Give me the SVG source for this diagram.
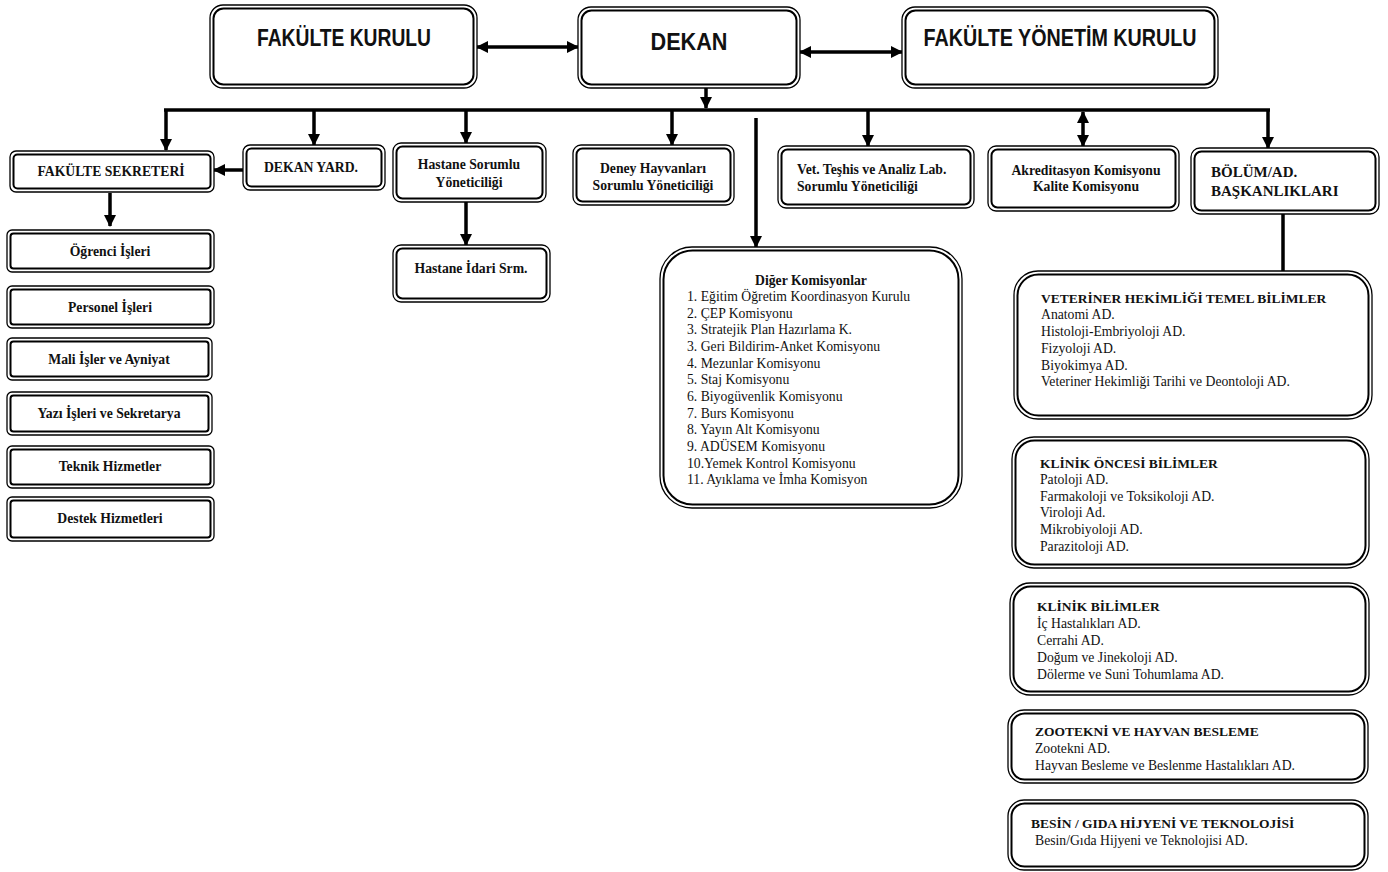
<svg xmlns="http://www.w3.org/2000/svg" width="1388" height="872" viewBox="0 0 1388 872">
<style>
.o{fill:#fff;stroke:#000;stroke-width:1.3}
.i{fill:none;stroke:#000;stroke-width:2}
.big{font-family:"Liberation Sans",Arial,sans-serif;font-weight:bold;font-size:24px;fill:#111}
.b{font-family:"Liberation Serif","Times New Roman",serif;font-weight:bold;font-size:13.7px;fill:#111}
.r{font-family:"Liberation Serif","Times New Roman",serif;font-size:13.7px;fill:#111}
.c{stroke:#000;stroke-width:3.5;fill:none}
</style>
<defs>
<marker id="ah" markerUnits="userSpaceOnUse" markerWidth="12" markerHeight="12" refX="11" refY="6" orient="auto-start-reverse">
<path d="M0,0 L12,6 L0,12 z" fill="#000"/>
</marker>
</defs>
<rect width="1388" height="872" fill="#fff"/>
<g id="connectors">
<line class="c" x1="164" y1="110" x2="1270" y2="110"/>
<line class="c" x1="166" y1="110" x2="166" y2="150" marker-end="url(#ah)"/>
<line class="c" x1="314" y1="110" x2="314" y2="145" marker-end="url(#ah)"/>
<line class="c" x1="466" y1="110" x2="466" y2="143" marker-end="url(#ah)"/>
<line class="c" x1="672" y1="110" x2="672" y2="145" marker-end="url(#ah)"/>
<line class="c" x1="756" y1="118" x2="756" y2="247" marker-end="url(#ah)"/>
<line class="c" x1="868" y1="110" x2="868" y2="146" marker-end="url(#ah)"/>
<line class="c" x1="1083" y1="112" x2="1083" y2="146" marker-start="url(#ah)" marker-end="url(#ah)"/>
<line class="c" x1="1268" y1="110" x2="1268" y2="148" marker-end="url(#ah)"/>
<line class="c" x1="706" y1="88" x2="706" y2="108" marker-end="url(#ah)"/>
<line class="c" x1="477" y1="47" x2="578" y2="47" marker-start="url(#ah)" marker-end="url(#ah)"/>
<line class="c" x1="800" y1="52" x2="902" y2="52" marker-start="url(#ah)" marker-end="url(#ah)"/>
<line class="c" x1="243" y1="170" x2="214" y2="170" marker-end="url(#ah)"/>
<line class="c" x1="466" y1="202" x2="466" y2="245" marker-end="url(#ah)"/>
<line class="c" x1="110" y1="193" x2="110" y2="226" marker-end="url(#ah)"/>
<line class="c" x1="1283" y1="214" x2="1283" y2="271"/>
</g>
<g id="fakulte-kurulu">
<rect class="o" x="210" y="5" width="267" height="83" rx="13"/>
<rect class="i" x="213.5" y="8.5" width="260" height="76" rx="10"/>
<text class="big" x="344" y="46" text-anchor="middle" textLength="174" lengthAdjust="spacingAndGlyphs">FAKÜLTE KURULU</text>
</g>
<g id="dekan">
<rect class="o" x="578" y="7" width="222" height="81" rx="13"/>
<rect class="i" x="581.5" y="10.5" width="215" height="74" rx="10"/>
<text class="big" x="689" y="50" text-anchor="middle" textLength="77" lengthAdjust="spacingAndGlyphs">DEKAN</text>
</g>
<g id="fakulte-yonetim-kurulu">
<rect class="o" x="902" y="7" width="316" height="81" rx="13"/>
<rect class="i" x="905.5" y="10.5" width="309" height="74" rx="10"/>
<text class="big" x="1060" y="46" text-anchor="middle" textLength="273" lengthAdjust="spacingAndGlyphs">FAKÜLTE YÖNETİM KURULU</text>
</g>
<g id="fakulte-sekreteri">
<rect class="o" x="10" y="151" width="204" height="41" rx="6"/>
<rect class="i" x="13.5" y="154.5" width="197" height="34" rx="4"/>
<text class="b" x="111" y="176" text-anchor="middle">FAKÜLTE SEKRETERİ</text>
</g>
<g id="dekan-yard">
<rect class="o" x="243" y="145" width="142" height="45" rx="7"/>
<rect class="i" x="246.5" y="148.5" width="135" height="38" rx="5"/>
<text class="b" x="311" y="172" text-anchor="middle">DEKAN YARD.</text>
</g>
<g id="hastane-sorumlu">
<rect class="o" x="393" y="143" width="153" height="59" rx="8"/>
<rect class="i" x="396.5" y="146.5" width="146" height="52" rx="6"/>
<text class="b" x="469" y="169" text-anchor="middle">Hastane Sorumlu</text>
<text class="b" x="469" y="187" text-anchor="middle">Yöneticiliği</text>
</g>
<g id="hastane-idari">
<rect class="o" x="393" y="245" width="157" height="57" rx="8"/>
<rect class="i" x="396.5" y="248.5" width="150" height="50" rx="6"/>
<text class="b" x="471" y="273" text-anchor="middle">Hastane İdari Srm.</text>
</g>
<g id="deney-hayvanlari">
<rect class="o" x="573" y="145" width="161" height="60" rx="8"/>
<rect class="i" x="576.5" y="148.5" width="154" height="53" rx="6"/>
<text class="b" x="653" y="173" text-anchor="middle">Deney Hayvanları</text>
<text class="b" x="653" y="190" text-anchor="middle">Sorumlu Yöneticiliği</text>
</g>
<g id="vet-teshis">
<rect class="o" x="778" y="146" width="196" height="62" rx="8"/>
<rect class="i" x="781.5" y="149.5" width="189" height="55" rx="6"/>
<text class="b" x="797" y="174">Vet. Teşhis ve Analiz Lab.</text>
<text class="b" x="797" y="191">Sorumlu Yöneticiliği</text>
</g>
<g id="akreditasyon">
<rect class="o" x="988" y="146" width="191" height="65" rx="8"/>
<rect class="i" x="991.5" y="149.5" width="184" height="58" rx="6"/>
<text class="b" x="1086" y="175" text-anchor="middle">Akreditasyon Komisyonu</text>
<text class="b" x="1086" y="191" text-anchor="middle">Kalite Komisyonu</text>
</g>
<g id="bolum-baskanliklari">
<rect class="o" x="1191" y="148" width="188" height="66" rx="9"/>
<rect class="i" x="1194.5" y="151.5" width="181" height="59" rx="7"/>
<text class="b" x="1211" y="177" style="font-size:15px">BÖLÜM/AD.</text>
<text class="b" x="1211" y="196" style="font-size:15px">BAŞKANLIKLARI</text>
</g>
<g id="ogrenci-isleri">
<rect class="o" x="7" y="230" width="207" height="42" rx="5"/>
<rect class="i" x="10.5" y="233.5" width="200" height="35" rx="3"/>
<text class="b" x="110" y="256" text-anchor="middle">Öğrenci İşleri</text>
</g>
<g id="personel-isleri">
<rect class="o" x="7" y="286" width="207" height="42" rx="5"/>
<rect class="i" x="10.5" y="289.5" width="200" height="35" rx="3"/>
<text class="b" x="110" y="312" text-anchor="middle">Personel İşleri</text>
</g>
<g id="mali-isler">
<rect class="o" x="7" y="338" width="205" height="42" rx="5"/>
<rect class="i" x="10.5" y="341.5" width="198" height="35" rx="3"/>
<text class="b" x="109" y="364" text-anchor="middle">Mali İşler ve Ayniyat</text>
</g>
<g id="yazi-isleri">
<rect class="o" x="7" y="392" width="205" height="43" rx="5"/>
<rect class="i" x="10.5" y="395.5" width="198" height="36" rx="3"/>
<text class="b" x="109" y="418" text-anchor="middle">Yazı İşleri ve Sekretarya</text>
</g>
<g id="teknik-hizmetler">
<rect class="o" x="7" y="446" width="207" height="42" rx="5"/>
<rect class="i" x="10.5" y="449.5" width="200" height="35" rx="3"/>
<text class="b" x="110" y="471" text-anchor="middle">Teknik Hizmetler</text>
</g>
<g id="destek-hizmetleri">
<rect class="o" x="7" y="497" width="207" height="44" rx="5"/>
<rect class="i" x="10.5" y="500.5" width="200" height="37" rx="3"/>
<text class="b" x="110" y="523" text-anchor="middle">Destek Hizmetleri</text>
</g>
<g id="diger-komisyonlar">
<rect class="o" x="660" y="247" width="302" height="261" rx="32"/>
<rect class="i" x="663.5" y="250.5" width="295" height="254" rx="29"/>
<text class="b" x="811" y="285" text-anchor="middle">Diğer Komisyonlar</text>
<text class="r" x="687" y="301">1. Eğitim Öğretim Koordinasyon Kurulu</text>
<text class="r" x="687" y="318">2. ÇEP Komisyonu</text>
<text class="r" x="687" y="334">3. Stratejik Plan Hazırlama K.</text>
<text class="r" x="687" y="351">3. Geri Bildirim-Anket Komisyonu</text>
<text class="r" x="687" y="368">4. Mezunlar Komisyonu</text>
<text class="r" x="687" y="384">5. Staj Komisyonu</text>
<text class="r" x="687" y="401">6. Biyogüvenlik Komisyonu</text>
<text class="r" x="687" y="418">7. Burs Komisyonu</text>
<text class="r" x="687" y="434">8. Yayın Alt Komisyonu</text>
<text class="r" x="687" y="451">9. ADÜSEM Komisyonu</text>
<text class="r" x="687" y="468">10.Yemek Kontrol Komisyonu</text>
<text class="r" x="687" y="484">11. Ayıklama ve İmha Komisyon</text>
</g>
<g id="temel-bilimler">
<rect class="o" x="1014" y="271" width="358" height="148" rx="24"/>
<rect class="i" x="1017.5" y="274.5" width="351" height="141" rx="21"/>
<text class="b" x="1041" y="303" style="font-size:13.5px">VETERİNER HEKİMLİĞİ TEMEL BİLİMLER</text>
<text class="r" x="1041" y="319">Anatomi AD.</text>
<text class="r" x="1041" y="336">Histoloji-Embriyoloji AD.</text>
<text class="r" x="1041" y="353">Fizyoloji AD.</text>
<text class="r" x="1041" y="370">Biyokimya AD.</text>
<text class="r" x="1041" y="386">Veteriner Hekimliği Tarihi ve Deontoloji AD.</text>
</g>
<g id="klinik-oncesi">
<rect class="o" x="1012" y="437" width="357" height="131" rx="22"/>
<rect class="i" x="1015.5" y="440.5" width="350" height="124" rx="19"/>
<text class="b" x="1040" y="468" style="font-size:13.5px">KLİNİK ÖNCESİ BİLİMLER</text>
<text class="r" x="1040" y="484">Patoloji AD.</text>
<text class="r" x="1040" y="501">Farmakoloji ve Toksikoloji AD.</text>
<text class="r" x="1040" y="517">Viroloji Ad.</text>
<text class="r" x="1040" y="534">Mikrobiyoloji AD.</text>
<text class="r" x="1040" y="551">Parazitoloji AD.</text>
</g>
<g id="klinik-bilimler">
<rect class="o" x="1010" y="583" width="359" height="112" rx="20"/>
<rect class="i" x="1013.5" y="586.5" width="352" height="105" rx="17"/>
<text class="b" x="1037" y="611" style="font-size:13.5px">KLİNİK BİLİMLER</text>
<text class="r" x="1037" y="628">İç Hastalıkları AD.</text>
<text class="r" x="1037" y="645">Cerrahi AD.</text>
<text class="r" x="1037" y="662">Doğum ve Jinekoloji AD.</text>
<text class="r" x="1037" y="679">Dölerme ve Suni Tohumlama AD.</text>
</g>
<g id="zootekni">
<rect class="o" x="1008" y="710" width="360" height="73" rx="16"/>
<rect class="i" x="1011.5" y="713.5" width="353" height="66" rx="13"/>
<text class="b" x="1035" y="736" style="font-size:13.5px">ZOOTEKNİ VE HAYVAN BESLEME</text>
<text class="r" x="1035" y="753">Zootekni AD.</text>
<text class="r" x="1035" y="770">Hayvan Besleme ve Beslenme Hastalıkları AD.</text>
</g>
<g id="besin-gida">
<rect class="o" x="1008" y="800" width="360" height="70" rx="16"/>
<rect class="i" x="1011.5" y="803.5" width="353" height="63" rx="13"/>
<text class="b" x="1031" y="828" style="font-size:13.5px">BESİN / GIDA HİJYENİ VE TEKNOLOJİSİ</text>
<text class="r" x="1035" y="845">Besin/Gıda Hijyeni ve Teknolojisi AD.</text>
</g>
</svg>
